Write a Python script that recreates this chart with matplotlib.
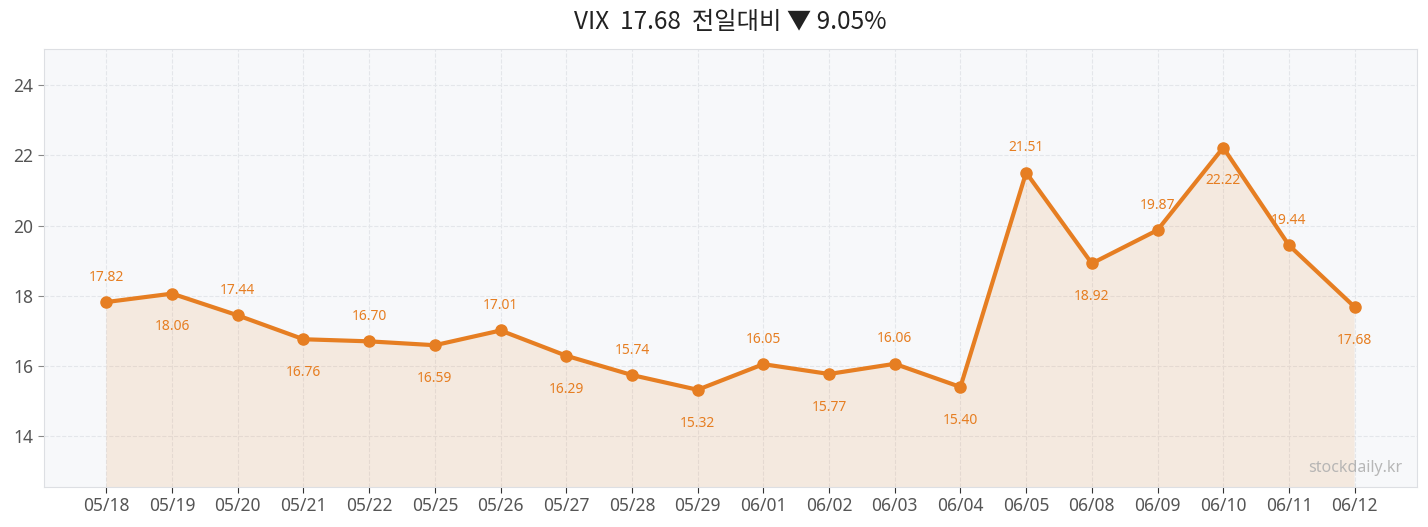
import matplotlib
matplotlib.use('Agg')
import matplotlib.pyplot as plt
import numpy as np

plt.rcParams['font.family'] = ['Noto Sans', 'Noto Sans CJK KR', 'DejaVu Sans']

dates = ['05/18', '05/19', '05/20', '05/21', '05/22', '05/25', '05/26', '05/27', '05/28', '05/29',
         '06/01', '06/02', '06/03', '06/04', '06/05', '06/08', '06/09', '06/10', '06/11', '06/12']
vix = [17.82, 18.06, 17.44, 16.76, 16.70, 16.59, 17.01, 16.29, 15.74, 15.32,
       16.05, 15.77, 16.06, 15.40, 21.51, 18.92, 19.87, 22.22, 19.44, 17.68]
title = 'VIX  17.68  전일대비 ▼ 9.05%'

color = '#E67E22'
x = np.arange(len(dates))

fig = plt.figure(figsize=(14.28, 5.27), dpi=100)
ax = fig.add_axes([44/1428, 1 - 487/527, (1417-44)/1428, (487-49)/527])
ax.set_facecolor('#f7f8fa')

ax.fill_between(x, vix, 0, color=color, alpha=0.12, linewidth=0)
ax.plot(x, vix, color=color, linewidth=3, marker='o', markersize=8, zorder=3)

for i, v in enumerate(vix):
    if i % 2 == 0:
        off = 18
    else:
        off = -24
    ax.annotate(f'{v:.2f}', (i, v), xytext=(0, off), textcoords='offset points',
                ha='center', va='center', fontsize=10, color=color)

ax.set_xlim(-0.95, 19.95)
ax.set_ylim(12.55, 25.03)
ax.set_yticks([14, 16, 18, 20, 22, 24])
ax.set_xticks(x)
ax.set_xticklabels(dates)
ax.tick_params(axis='both', labelsize=12.5, length=4)
ax.tick_params(axis='x', colors='#333333', labelcolor='#555555')
ax.tick_params(axis='y', colors='#888888', labelcolor='#555555')
ax.grid(True, linestyle='--', color='#e4e6ea', linewidth=0.8)
ax.set_axisbelow(True)
for s in ax.spines.values():
    s.set_color('#dddfe3')

ax.text(0.989, 0.025, 'stockdaily.kr', transform=ax.transAxes, ha='right', va='bottom',
        fontsize=11.5, color='#b0b0b0', alpha=0.9)

# title centred over the plot area, not the whole figure
fig.text(730.5/1428, 1 - 22/527, title, ha='center', va='center', fontsize=17.5,
         fontweight='medium', color='#222222', family=['Noto Sans CJK KR', 'DejaVu Sans'])

fig.savefig('out.png', dpi=100, facecolor='white')
